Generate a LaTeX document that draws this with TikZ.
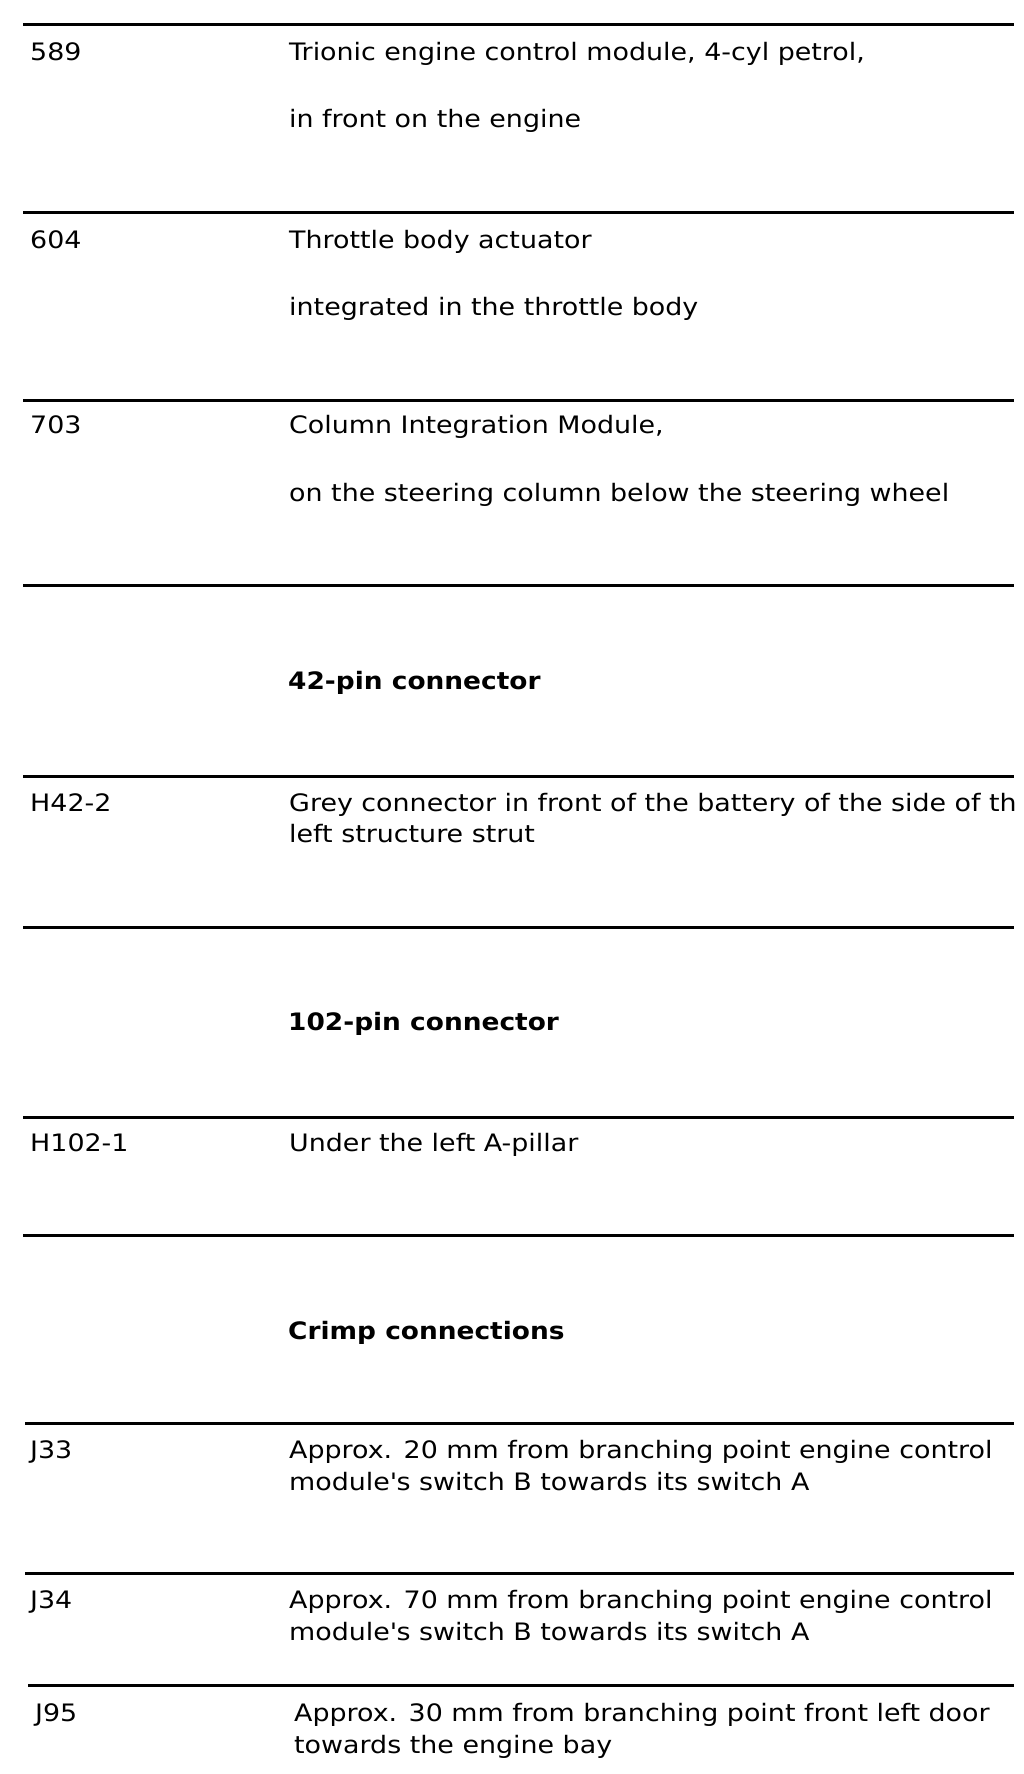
\documentclass[tikz,border=0pt]{standalone}
\usepackage{fontspec}
\setmainfont{DejaVu Sans}[FakeStretch=1.12]
\newfontfamily\headfont[FakeStretch=1.10]{DejaVu Sans Bold}
\usetikzlibrary{positioning}
\tikzset{
    basic/.style     = {inner sep=0pt, anchor=base west, font=\fontsize{24}{32}\selectfont},
    part id/.style   = {basic},
    part text/.style = {basic},
    part head/.style = {basic, font=\fontsize{24}{32}\headfont},
    row rule/.style  = {line width=3pt, black}
}
\begin{document}
\begin{tikzpicture}[x=1pt,y=-1pt]
	\useasboundingbox (0,0) rectangle (1024,1774);
	\begin{scope}
		\clip (0,0) rectangle (1014,1774);
		\draw[row rule] (23,25) -- (1014,25);
		\node[part id] (id589) at (30,61) {589};
		\node[part text] (t589a) at (289,61) {Trionic engine control module, 4-cyl petrol,};
		\node[part text] (t589b) at (289,128) {in front on the engine};

		\draw[row rule] (23,212) -- (1014,212);
		\node[part id] (id604) at (30,248) {604};
		\node[part text] (t604a) at (289,248) {Throttle body actuator};
		\node[part text] (t604b) at (289,315) {integrated in the throttle body};

		\draw[row rule] (23,400) -- (1014,400);
		\node[part id] (id703) at (30,433) {703};
		\node[part text] (t703a) at (289,433) {Column Integration Module,};
		\node[part text] (t703b) at (289,501) {on the steering column below the steering wheel};

		\draw[row rule] (23,585) -- (1014,585);
		\node[part head] (h42) at (288,689) {42-pin connector};

		\draw[row rule] (23,776) -- (1014,776);
		\node[part id] (idH42) at (30,811) {H42-2};
		\node[part text] (tH42a) at (289,811) {Grey connector in front of the battery of the side of the};
		\node[part text] (tH42b) at (289,842) {left structure strut};

		\draw[row rule] (23,927) -- (1014,927);
		\node[part head] (h102) at (288,1030) {102-pin connector};

		\draw[row rule] (23,1117) -- (1014,1117);
		\node[part id] (idH102) at (30,1151) {H102-1};
		\node[part text] (tH102) at (289,1151) {Under the left A-pillar};

		\draw[row rule] (23,1235) -- (1014,1235);
		\node[part head] (hcrimp) at (288,1339) {Crimp connections};

		\draw[row rule] (25,1423) -- (1014,1423);
		\node[part id] (idJ33) at (30,1458) {J33};
		\node[part text] (tJ33a) at (289,1458) {Approx. 20 mm from branching point engine control};
		\node[part text] (tJ33b) at (289,1490) {module\textquotesingle s switch B towards its switch A};

		\draw[row rule] (25,1573) -- (1014,1573);
		\node[part id] (idJ34) at (30,1608) {J34};
		\node[part text] (tJ34a) at (289,1608) {Approx. 70 mm from branching point engine control};
		\node[part text] (tJ34b) at (289,1640) {module\textquotesingle s switch B towards its switch A};

		\draw[row rule] (28,1685) -- (1014,1685);
		\node[part id] (idJ95) at (35,1721) {J95};
		\node[part text] (tJ95a) at (294,1721) {Approx. 30 mm from branching point front left door};
		\node[part text] (tJ95b) at (294,1753) {towards the engine bay};
	\end{scope}
\end{tikzpicture}
\end{document}
